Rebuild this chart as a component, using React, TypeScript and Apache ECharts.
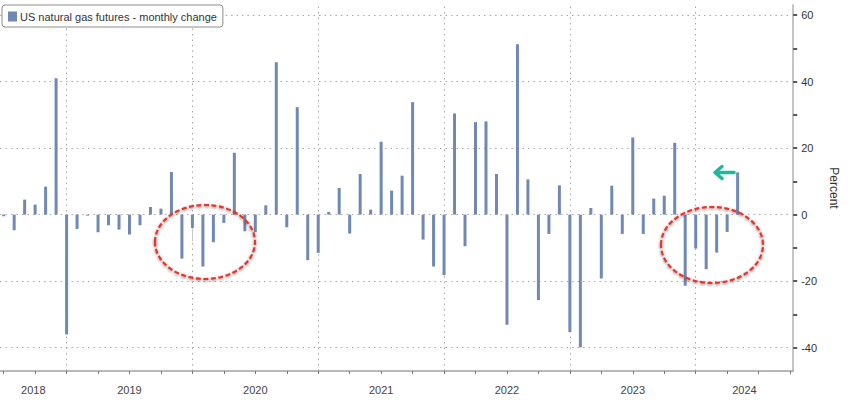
import React, { useEffect, useRef } from "react";
import * as echarts from "echarts";

// Months (bar placed at month end) and monthly % change
const months: string[] = [
  "2018-06", "2018-07", "2018-08", "2018-09", "2018-10", "2018-11", "2018-12",
  "2019-01", "2019-02", "2019-03", "2019-04", "2019-05", "2019-06", "2019-07", "2019-08", "2019-09", "2019-10", "2019-11", "2019-12",
  "2020-01", "2020-02", "2020-03", "2020-04", "2020-05", "2020-06", "2020-07", "2020-08", "2020-09", "2020-10", "2020-11", "2020-12",
  "2021-01", "2021-02", "2021-03", "2021-04", "2021-05", "2021-06", "2021-07", "2021-08", "2021-09", "2021-10", "2021-11", "2021-12",
  "2022-01", "2022-02", "2022-03", "2022-04", "2022-05", "2022-06", "2022-07", "2022-08", "2022-09", "2022-10", "2022-11", "2022-12",
  "2023-01", "2023-02", "2023-03", "2023-04", "2023-05", "2023-06", "2023-07", "2023-08", "2023-09", "2023-10", "2023-11", "2023-12",
  "2024-01", "2024-02", "2024-03", "2024-04",
];
const changes: number[] = [
  -0.5, -4.7, 4.5, 3.0, 8.4, 41.0, -36.0,
  -4.3, -0.3, -5.3, -3.2, -4.5, -6.0, -3.2, 2.3, 1.8, 12.8, -13.2, -4.0,
  -15.6, -8.3, -2.5, 18.6, -5.0, -5.3, 2.8, 45.8, -3.8, 32.3, -13.7, -11.5,
  0.8, 8.0, -5.7, 12.2, 1.5, 21.9, 7.2, 11.7, 33.8, -7.5, -15.6, -18.2,
  30.4, -9.5, 27.8, 28.0, 12.2, -33.1, 51.2, 10.6, -25.7, -5.8, 8.8, -35.3,
  -39.9, 2.0, -19.2, 8.7, -5.8, 23.2, -5.8, 4.8, 5.7, 21.6, -21.4, -10.2,
  -16.4, -11.4, -5.2, 12.7,
];
const years: number[] = [2018, 2019, 2020, 2021, 2022, 2023, 2024];
const yTickValues: number[] = [-40, -20, 0, 20, 40, 60];
const yMinorValues: number[] = [-30, -10, 10, 30, 50];

const BASE_YEAR = 2018;
const X_MIN = 5.65;
const X_MAX = 81.3;
const Y_MIN = -47;
const Y_MAX = 63;

// month index (months since Jan 2018) at month end
const monthEnd = (m: string) => {
  const [y, mo] = m.split("-").map(Number);
  return (y - BASE_YEAR) * 12 + mo;
};

export default function App() {
  const ref = useRef<HTMLDivElement>(null);
  useEffect(() => {
    document.body.style.margin = "0";
    if (!ref.current) return;
    const chart = echarts.init(ref.current, undefined, { renderer: "svg" });

    const barData = months.map((m, i) => [monthEnd(m), changes[i]]);
    const yearBounds = years.slice(1).map((y) => (y - BASE_YEAR) * 12);
    const quarterTicks: number[] = [];
    for (let t = 6; t <= X_MAX; t += 3) quarterTicks.push(t);
    const yearCenters = years.map((y) => {
      const a = Math.max((y - BASE_YEAR) * 12, X_MIN);
      const b = Math.min((y - BASE_YEAR + 1) * 12, X_MAX);
      return (a + b) / 2;
    });

    const dotted = { color: "#a8a8a8", width: 1, type: [1.5, 4] as number[] };
    const ellipseStyle = {
      fill: "none",
      stroke: "#e8352c",
      lineWidth: 2.2,
      lineDash: [5, 2.5],
      shadowBlur: 3,
      shadowOffsetY: 1,
      shadowColor: "rgba(0,0,0,0.55)",
    };

    chart.setOption({
      animation: false,
      textStyle: { fontFamily: "Liberation Sans, Arial, sans-serif" },
      grid: { left: 0, right: 50, top: 5, bottom: 29, containLabel: false },
      legend: {
        left: 2,
        top: 5,
        orient: "horizontal",
        icon: "rect",
        itemWidth: 9,
        itemHeight: 10,
        itemGap: 4,
        padding: [6, 6, 5, 6],
        borderColor: "#8c8c8c",
        borderWidth: 1,
        borderRadius: 3,
        backgroundColor: "#fff",
        textStyle: { fontSize: 11, color: "#333", padding: [0, 0, 0, -2] },
        data: ["US natural gas futures - monthly change"],
      },
      xAxis: [
        {
          type: "value",
          min: X_MIN,
          max: X_MAX,
          position: "bottom",
          axisLine: { show: true, onZero: false, lineStyle: { color: "#a0a0a0", width: 1.5 } },
          axisTick: { show: true, customValues: quarterTicks, length: 3, lineStyle: { color: "#777" } },
          axisLabel: {
            customValues: yearCenters,
            margin: 13,
            fontSize: 11,
            color: "#444",
            formatter: (v: number) => String(BASE_YEAR + Math.floor(v / 12)),
          },
          splitLine: { show: false },
        },
        {
          type: "value",
          min: X_MIN,
          max: X_MAX,
          position: "bottom",
          axisLine: { show: false },
          axisTick: { show: true, customValues: yearBounds, length: 27, lineStyle: { color: "#c8c8c8", width: 1 } },
          axisLabel: { show: false },
          splitLine: { show: false },
        },
      ],
      yAxis: {
        type: "value",
        position: "right",
        min: Y_MIN,
        max: Y_MAX,
        name: "Percent",
        nameLocation: "middle",
        nameRotate: -90,
        nameGap: 34,
        nameTextStyle: { fontSize: 12, color: "#333" },
        axisLine: { show: true, lineStyle: { color: "#c4c4c4", width: 2 } },
        axisTick: { show: true, customValues: [...yTickValues, ...yMinorValues].sort((a, b) => a - b), length: 4, lineStyle: { color: "#222", width: 1.5 } },
        axisLabel: { customValues: yTickValues, margin: 8, fontSize: 11, color: "#333" },
        splitLine: { show: false },
      },
      series: [
        {
          name: "US natural gas futures - monthly change",
          type: "bar",
          barWidth: 3,
          itemStyle: { color: "#6f89b3" },
          data: barData,
          markLine: {
            silent: true,
            symbol: "none",
            label: { show: false },
            lineStyle: dotted,
            data: [
              ...yTickValues.map((v) => ({ yAxis: v })),
              ...yearBounds.map((v) => ({ xAxis: v })),
            ],
            z: 0,
          },
        },
      ],
      graphic: [
        {
          type: "ellipse",
          shape: { cx: 205, cy: 242, rx: 50, ry: 37 },
          style: ellipseStyle,
          z: 100,
        },
        {
          type: "ellipse",
          shape: { cx: 712, cy: 245, rx: 51, ry: 38 },
          style: ellipseStyle,
          z: 100,
        },
        {
          type: "line",
          shape: { x1: 717, y1: 172.5, x2: 734, y2: 172.5 },
          style: { stroke: "#1fb89c", lineWidth: 3.5, lineCap: "round" },
          z: 100,
        },
        {
          type: "polyline",
          shape: { points: [[722, 166.5], [715, 172.5], [722, 178.5]] },
          style: { stroke: "#1fb89c", lineWidth: 3.5, fill: "none", lineCap: "round", lineJoin: "round" },
          z: 100,
        },
      ],
    });
    return () => chart.dispose();
  }, []);
  return <div ref={ref} style={{ width: 848, height: 400 }} />;
}
